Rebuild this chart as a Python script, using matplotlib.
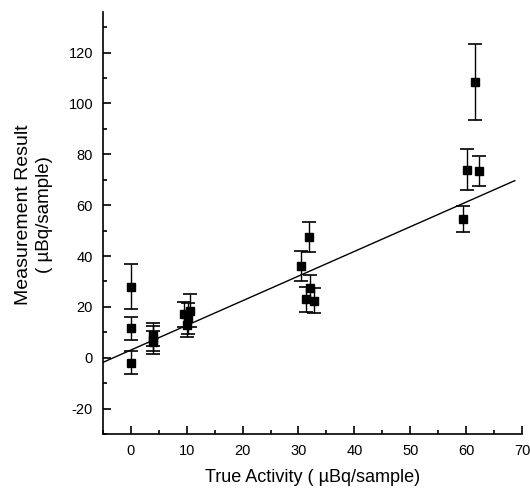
import numpy as np
import matplotlib
matplotlib.use('Agg')
from matplotlib import pyplot as plt
from matplotlib.ticker import MultipleLocator

# measured points (true activity, measurement result, error)
trueActivity = [0, 0, 0, 4, 4, 4, 9.6, 10, 10.3, 10.6,
                30.5, 31.4, 31.8, 32.1, 32.7, 59.5, 60.1, 61.6, 62.3]
measured = [28, 11.5, -2, 9, 7.5, 6, 17, 13, 15.5, 18.5,
            36, 23, 47.5, 27.5, 22.5, 54.5, 74, 108.5, 73.5]
measErr = [9, 4.5, 4.5, 4.5, 5, 4.5, 5, 5, 6, 6.5,
           6, 5, 6, 5, 5, 5, 8, 15, 6]

# fitted line
fitX = [-5, 68.7]
fitIntercept = 3.0
fitSlope = 0.97

plt.rcParams['font.family'] = ['Liberation Sans Narrow', 'Liberation Sans', 'DejaVu Sans']
plt.rcParams['axes.unicode_minus'] = False

fig = plt.figure(figsize=(5.3, 4.96), dpi=100)
ax = fig.add_axes([0.194, 0.125, 0.791, 0.851])

ax.errorbar(trueActivity, measured, yerr=measErr, fmt='s', color='black',
            ms=6.3, capsize=5, elinewidth=1, capthick=1.2)
fx = np.array(fitX)
ax.plot(fx, fitIntercept + fitSlope * fx, 'k-', lw=1)

ax.set_xlim(-5, 70)
ax.set_ylim(-30, 136)
ax.xaxis.set_major_locator(MultipleLocator(10))
ax.xaxis.set_minor_locator(MultipleLocator(5))
ax.yaxis.set_minor_locator(MultipleLocator(10))
ax.set_yticks(range(-20, 121, 20))
ax.tick_params(which='both', direction='in', labelsize=10.5, width=1.2)
ax.tick_params(which='major', length=6, pad=7)
ax.tick_params(which='minor', length=3)
ax.spines['top'].set_visible(False)
ax.spines['right'].set_visible(False)
ax.spines['left'].set_linewidth(1.2)
ax.spines['bottom'].set_linewidth(1.2)

ax.set_xlabel('True Activity ( \u00b5Bq/sample)', fontsize=13, labelpad=8)
ax.text(-0.19, 0.52, 'Measurement Result', rotation=90, transform=ax.transAxes,
        ha='center', va='center', fontsize=14)
ax.text(-0.138, 0.52, '( \u00b5Bq/sample)', rotation=90, transform=ax.transAxes,
        ha='center', va='center', fontsize=13.5)

fig.savefig('out.png', dpi=100)
